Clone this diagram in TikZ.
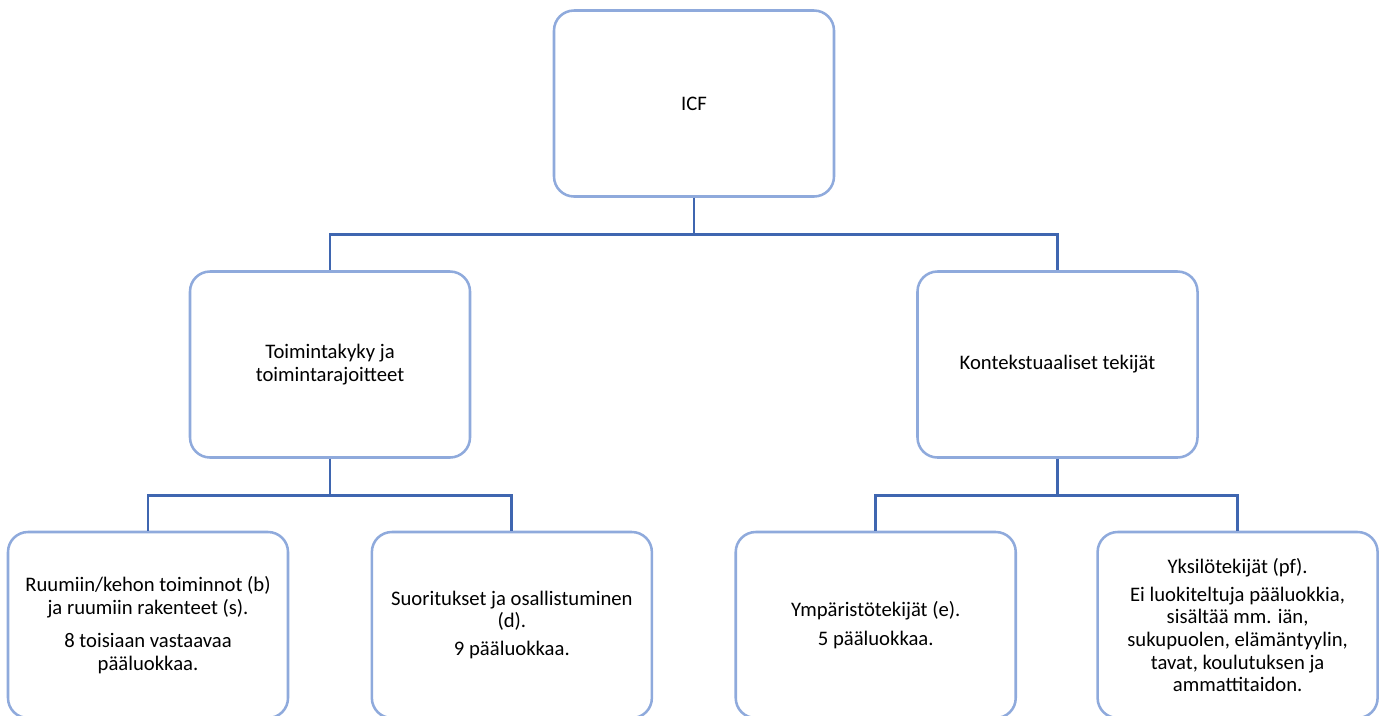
\documentclass[tikz,border=0pt]{standalone}
\usepackage{fontspec}
\setmainfont{Carlito}
\usetikzlibrary{positioning}

\definecolor{boxline}{HTML}{8FAADC}
\definecolor{linkline}{HTML}{3F66B0}

\begin{document}
\begin{tikzpicture}[
    x=0.75pt, y=-0.75pt,
    node distance=56pt and 61pt,
    box/.style={rectangle, draw=boxline, line width=1.9pt, rounded corners=15pt, fill=white,
        minimum width=210pt, minimum height=139.5pt, align=center,
        font=\fontsize{15.5}{17}\selectfont},
    link/.style={draw=linkline, line width=2.2pt}
]
\useasboundingbox (0,0) rectangle (1384,715);

% -------- Level 1 --------
\node[box] (icf) at (694,103.5) {ICF};

% -------- Level 2 --------
\node[box] (toim) at (330,364.5) {Toimintakyky ja\\toimintarajoitteet};
\node[box] (kont) at (1057.5,364.5) {Kontekstuaaliset tekijät};

% -------- Level 3 --------
\node[box] (ruum) at (148,625) {Ruumiin/kehon toiminnot (b)\\ja ruumiin rakenteet (s).\\[8pt]8 toisiaan vastaavaa\\pääluokkaa.};
\node[box, right=of ruum] (suor) {Suoritukset ja osallistuminen\\(d).\\[4pt]9 pääluokkaa.};
\node[box, right=of suor] (ymp) {Ympäristötekijät (e).\\[5pt]5 pääluokkaa.};
\node[box, right=59.5pt of ymp] (yksi) {Yksilötekijät (pf).\\[4pt]Ei luokiteltuja pääluokkia,\\sisältää mm. iän,\\sukupuolen, elämäntyylin,\\tavat, koulutuksen ja\\ammattitaidon.};

% -------- Connectors --------
\draw[link] (icf.south) -- ++(0,37) -| (toim.north);
\draw[link] (icf.south) -- ++(0,37) -| (kont.north);
\draw[link] (toim.south) -- ++(0,37) -| (ruum.north);
\draw[link] (toim.south) -- ++(0,37) -| (suor.north);
\draw[link] (kont.south) -- ++(0,37) -| (ymp.north);
\draw[link] (kont.south) -- ++(0,37) -| (yksi.north);

\end{tikzpicture}
\end{document}
